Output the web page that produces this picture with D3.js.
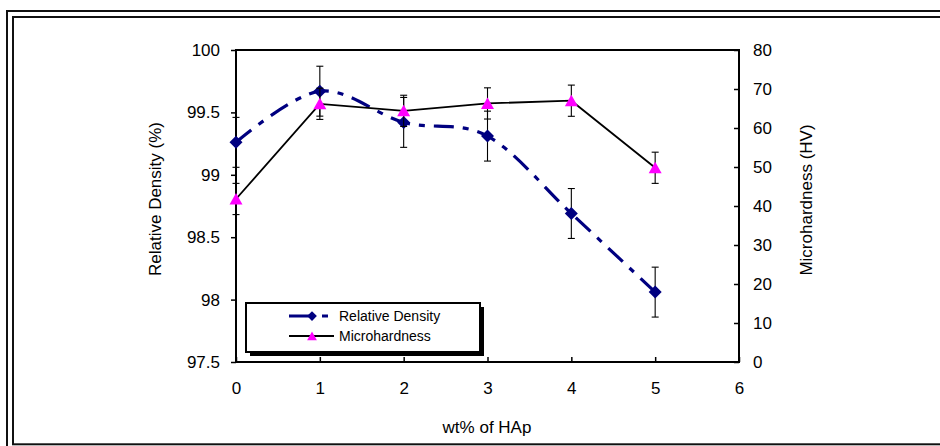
<!DOCTYPE html>
<html><head><meta charset="utf-8">
<script src="https://cdn.jsdelivr.net/npm/d3@7/dist/d3.min.js"></script>
<style>
html,body{margin:0;padding:0;background:#fff;}
svg{display:block;font-family:"Liberation Sans",Arial,sans-serif;}
</style></head>
<body><svg id="c" width="940" height="446"></svg>
<script>
// ---- data ----
const wt = [0, 1, 2, 3, 4, 5];
const density = [99.26, 99.67, 99.42, 99.31, 98.69, 98.06];
const densityErr = [0.2, 0.2, 0.2, 0.2, 0.2, 0.2];
const hardness = [41.8, 66.2, 64.4, 66.3, 67.0, 49.8];
const hardnessErr = [4, 4, 4, 4, 4, 4];
const xTicks = [0, 1, 2, 3, 4, 5, 6];
const yLeftTicks = [97.5, 98, 98.5, 99, 99.5, 100];
const yRightTicks = [0, 10, 20, 30, 40, 50, 60, 70, 80];
const seriesNames = ["Relative Density", "Microhardness"];
const axisTitles = {x: "wt% of HAp", yl: "Relative Density (%)", yr: "Microhardness (HV)"};

const svg = d3.select("#c");
const L = 236, R = 739, T = 50, B = 362;
const x = d3.scaleLinear().domain([0, 6]).range([L, R]);
const yl = d3.scaleLinear().domain([97.5, 100]).range([B, T]);
const yr = d3.scaleLinear().domain([0, 80]).range([B, T]);
const navy = "#000080", magenta = "#ff00ff";

// outer double frame
svg.append("rect").attr("x", 7).attr("y", 11).attr("width", 960).attr("height", 460)
  .attr("fill", "none").attr("stroke", "#111").attr("stroke-width", 2);
svg.append("rect").attr("x", 13).attr("y", 17).attr("width", 960).attr("height", 427.3)
  .attr("fill", "none").attr("stroke", "#111").attr("stroke-width", 2);

// plot area border
svg.append("rect").attr("x", L).attr("y", T).attr("width", R - L).attr("height", B - T)
  .attr("fill", "none").attr("stroke", "#000").attr("stroke-width", 2);

const fs = 17;
// left axis
const gl = svg.append("g").attr("transform", `translate(${L},0)`)
  .call(d3.axisLeft(yl).tickValues(yLeftTicks).tickSize(5).tickPadding(11).tickFormat(d3.format("")));
// right axis
const gr = svg.append("g").attr("transform", `translate(${R},0)`)
  .call(d3.axisRight(yr).tickValues(yRightTicks).tickSizeInner(-5).tickSizeOuter(0).tickPadding(14).tickFormat(d3.format("d")));
// bottom axis
const gb = svg.append("g").attr("transform", `translate(0,${B})`)
  .call(d3.axisBottom(x).tickValues(xTicks).tickSizeInner(-5).tickSizeOuter(0).tickPadding(14).tickFormat(d3.format("d")));
[gl, gr, gb].forEach(g => {
  g.select(".domain").remove();
  g.selectAll(".tick line").attr("stroke", "#000").attr("stroke-width", 1.5);
  g.selectAll(".tick text").attr("font-size", fs).attr("fill", "#000")
    .attr("font-family", "Liberation Sans, Arial, sans-serif");
});
gl.selectAll(".tick text").attr("x", -16);
gr.selectAll(".tick text").attr("x", 14);
gb.selectAll(".tick text").attr("y", 20);

// axis titles
svg.append("text").attr("x", 487).attr("y", 433).attr("text-anchor", "middle")
  .attr("font-size", fs).text(axisTitles.x);
svg.append("text").attr("transform", "translate(161,199) rotate(-90)").attr("text-anchor", "middle")
  .attr("font-size", fs).text(axisTitles.yl);
svg.append("text").attr("transform", "translate(812,200) rotate(-90)").attr("text-anchor", "middle")
  .attr("font-size", fs).text(axisTitles.yr);

const dash = "20,9,6,9";
const diamond = "M0,-6.5L6.5,0L0,6.5L-6.5,0Z";
const tri = "M0,-6L6.5,5.5L-6.5,5.5Z";

// density series
const dData = wt.map((w, i) => ({x: w, y: density[i], e: densityErr[i]}));
svg.append("path").datum(dData)
  .attr("d", d3.line().x(d => x(d.x)).y(d => yl(d.y)).curve(d3.curveCardinal.tension(0)))
  .attr("fill", "none").attr("stroke", navy).attr("stroke-width", 3.2).attr("stroke-dasharray", dash);
const eb = (g, data, ys) => {
  const gg = g.append("g").attr("stroke", "#000").attr("stroke-width", 1.1);
  data.forEach(d => {
    const cx = x(d.x), y1 = ys(d.y + d.e), y2 = ys(d.y - d.e);
    gg.append("line").attr("x1", cx).attr("x2", cx).attr("y1", y1).attr("y2", y2);
    gg.append("line").attr("x1", cx - 3.5).attr("x2", cx + 3.5).attr("y1", y1).attr("y2", y1);
    gg.append("line").attr("x1", cx - 3.5).attr("x2", cx + 3.5).attr("y1", y2).attr("y2", y2);
  });
};
eb(svg, dData, yl);
svg.append("g").selectAll("path").data(dData).join("path")
  .attr("d", diamond).attr("transform", d => `translate(${x(d.x)},${yl(d.y)})`).attr("fill", navy);

// hardness series
const hData = wt.map((w, i) => ({x: w, y: hardness[i], e: hardnessErr[i]}));
svg.append("path").datum(hData)
  .attr("d", d3.line().x(d => x(d.x)).y(d => yr(d.y)))
  .attr("fill", "none").attr("stroke", "#000").attr("stroke-width", 1.8);
eb(svg, hData, yr);
svg.append("g").selectAll("path").data(hData).join("path")
  .attr("d", tri).attr("transform", d => `translate(${x(d.x)},${yr(d.y)})`).attr("fill", magenta);

// legend
const lg = svg.append("g");
lg.append("rect").attr("x", 250).attr("y", 307).attr("width", 234).attr("height", 49).attr("fill", "#000");
lg.append("rect").attr("x", 246).attr("y", 303).attr("width", 234).attr("height", 49)
  .attr("fill", "#fff").attr("stroke", "#000").attr("stroke-width", 2);
const items = [
  {name: seriesNames[0], y: 316, color: navy, w: 3.2, dash: "24,9,6,20", mark: diamond, mcol: navy},
  {name: seriesNames[1], y: 336, color: "#000", w: 1.8, dash: null, mark: tri, mcol: magenta}
];
items.forEach(it => {
  lg.append("line").attr("x1", 289).attr("x2", 334).attr("y1", it.y).attr("y2", it.y)
    .attr("stroke", it.color).attr("stroke-width", it.w).attr("stroke-dasharray", it.dash);
  lg.append("path").attr("d", it.mark).attr("transform", `translate(312,${it.y}) scale(0.75)`).attr("fill", it.mcol);
  lg.append("text").attr("x", 339).attr("y", it.y + 5).attr("font-size", 14).text(it.name);
});
</script></body></html>
